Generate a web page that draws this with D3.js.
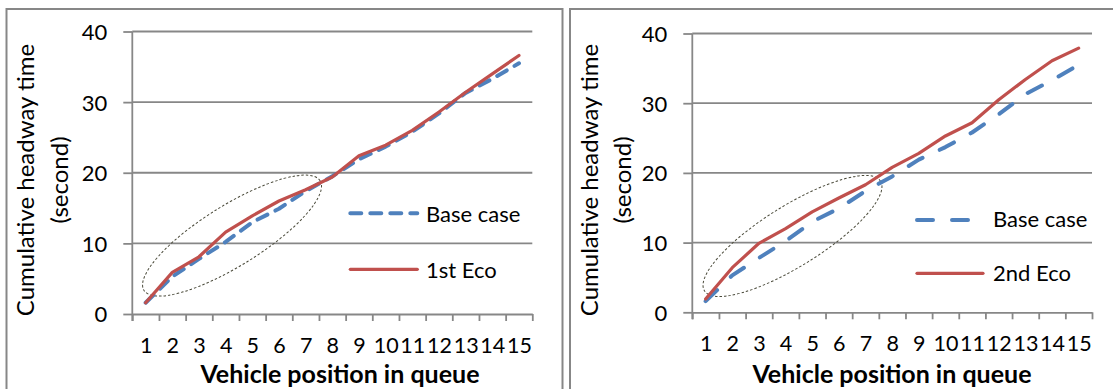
<!DOCTYPE html>
<html>
<head>
<meta charset="utf-8">
<script src="https://cdn.jsdelivr.net/npm/d3@7"></script>
<style>
  html, body { margin: 0; padding: 0; background: #fff; }
  svg { display: block; }
</style>
</head>
<body>
<div id="chart"></div>
<script>
// DATA ------------------------
const positions = [1, 2, 3, 4, 5, 6, 7, 8, 9, 10, 11, 12, 13, 14, 15]
const baseCase = [1.6, 5.3, 7.8, 10.2, 13.0, 14.9, 17.4, 19.5, 21.9, 23.7, 25.8, 28.4, 31.3, 33.3, 35.5]
const firstEco = [1.6, 5.9, 8.1, 11.6, 13.9, 16.0, 17.6, 19.4, 22.4, 23.9, 26.0, 28.6, 31.4, 34.0, 36.6]
const secondEco = [1.9, 6.4, 9.9, 12.0, 14.4, 16.4, 18.3, 20.8, 22.8, 25.3, 27.2, 30.5, 33.4, 36.1, 37.9]
const yTicks = [0, 10, 20, 30, 40]
const yTitleLines = ["Cumulative headway time", "(second)"]
const xTitle = "Vehicle position in queue"
const baseName = "Base case"
const ecoNames = ["1st Eco", "2nd Eco"]
// dotted ellipse around the start of the queue: [position, seconds]
const highlightCentres = [[4.24, 11.1], [4.26, 10.95]]

const W = 1113
const H = 389
const FONT = "Lato, 'Open Sans', sans-serif"
const GRID = "#878787"
const BLUE = "#4f81bd"
const RED = "#c0504d"

const panels = [
  {
    frameX: 6.5, frameW: 556, x0: 132.3, x1: 532.3, y0: 314, y40: 31.5,
    titleX: 340, yTitleX: [34, 68], legX: [350.3, 417.3], legY: [213.3, 269.3],
    legTextX: 426, legTextDy: 8.2, dash: "11,9",
    eco: firstEco, ecoName: ecoNames[0], centre: highlightCentres[0],
  },
  {
    frameX: 570, frameW: 560, x0: 692.3, x1: 1092, y0: 312.3, y40: 33.5,
    titleX: 892, yTitleX: [598, 631], legX: [917, 983], legY: [220, 273.3],
    legTextX: 993, legTextDy: 7.3, dash: "16,19",
    eco: secondEco, ecoName: ecoNames[1], centre: highlightCentres[1],
  },
]

const svg = d3
  .select("#chart")
  .append("svg")
  .attr("width", W)
  .attr("height", H)
  .attr("viewBox", `0 0 ${W} ${H}`)

svg.append("rect").attr("width", W).attr("height", H).attr("fill", "#fff")

const drawPanel = p => {
  const g = svg.append("g")

  // frame
  g.append("rect")
    .attr("x", p.frameX)
    .attr("y", 9)
    .attr("width", p.frameW)
    .attr("height", 420)
    .attr("fill", "none")
    .attr("stroke", GRID)
    .attr("stroke-width", 2)

  // SCALES ----------------------
  const x = d3.scaleLinear().domain([0.5, 15.5]).range([p.x0, p.x1])
  const y = d3.scaleLinear().domain([0, 40]).range([p.y0, p.y40])

  // GRID ------------------------
  g.append("g")
    .selectAll("line")
    .data(yTicks.filter(t => t > 0))
    .join("line")
    .attr("x1", p.x0)
    .attr("x2", p.x1)
    .attr("y1", d => y(d))
    .attr("y2", d => y(d))
    .attr("stroke", GRID)
    .attr("stroke-width", 1.8)

  // AXES ------------------------
  const gY = g.append("g")
    .attr("transform", `translate(${p.x0},0)`)
    .attr("color", GRID)
    .call(d3.axisLeft(y).tickValues(yTicks).tickSize(9).tickPadding(16))
  gY.select(".domain").remove()
  gY.selectAll("line").attr("stroke-width", 1.8)
  gY.selectAll("text")
    .attr("fill", "#000")
    .attr("font-family", FONT)
    .attr("font-size", 22)
    .attr("dy", "0.36em")

  g.append("line")
    .attr("x1", p.x0)
    .attr("x2", p.x0)
    .attr("y1", y(40))
    .attr("y2", y(0) + 7)
    .attr("stroke", GRID)
    .attr("stroke-width", 1.8)

  const gX = g.append("g")
    .attr("transform", `translate(0,${p.y0})`)
    .attr("color", GRID)
    .call(
      d3.axisBottom(x)
        .tickValues(positions.map(d => d - 0.5).concat([positions.length + 0.5]))
        .tickSize(7)
        .tickSizeOuter(0)
        .tickFormat("")
    )
  gX.selectAll("path, line").attr("stroke-width", 1.8)

  const gXLabels = g.append("g")
    .attr("transform", `translate(0,${p.y0})`)
    .call(d3.axisBottom(x).tickValues(positions).tickSize(0).tickFormat(d3.format("d")))
  gXLabels.select(".domain").remove()
  gXLabels.selectAll("text")
    .attr("fill", "#000")
    .attr("font-family", FONT)
    .attr("font-size", 21.5)
    .attr("y", 39)
    .attr("dy", null)

  // TITLES ----------------------
  g.append("text")
    .attr("x", p.titleX)
    .attr("y", 383)
    .attr("text-anchor", "middle")
    .attr("font-family", FONT)
    .attr("font-weight", "bold")
    .attr("font-size", 25)
    .text(xTitle)

  yTitleLines.forEach((line, i) => {
    g.append("text")
      .attr("transform", `translate(${p.yTitleX[i]},180) rotate(-90)`)
      .attr("text-anchor", "middle")
      .attr("font-family", FONT)
      .attr("font-size", 24)
      .text(line)
  })

  // HIGHLIGHT -------------------
  g.append("ellipse")
    .attr("transform", `translate(${x(p.centre[0])},${y(p.centre[1])}) rotate(-31.9)`)
    .attr("rx", 103.7)
    .attr("ry", 30.2)
    .attr("fill", "none")
    .attr("stroke", "#4a4a3a")
    .attr("stroke-width", 1)
    .attr("stroke-dasharray", "2.5,2")

  // LINES -----------------------
  const line = d3.line()
    .x((d, i) => x(positions[i]))
    .y(d => y(d))

  g.append("path")
    .datum(baseCase)
    .attr("d", line)
    .attr("fill", "none")
    .attr("stroke", BLUE)
    .attr("stroke-width", 4)
    .attr("stroke-linecap", "round")
    .attr("stroke-linejoin", "round")
    .attr("stroke-dasharray", p.dash)

  g.append("path")
    .datum(p.eco)
    .attr("d", line)
    .attr("fill", "none")
    .attr("stroke", RED)
    .attr("stroke-width", 3.2)
    .attr("stroke-linecap", "round")
    .attr("stroke-linejoin", "round")

  // LEGEND ----------------------
  const legend = [
    { name: baseName, color: BLUE, width: 4, dash: p.dash },
    { name: p.ecoName, color: RED, width: 3.2, dash: null },
  ]
  legend.forEach((d, i) => {
    g.append("line")
      .attr("x1", p.legX[0])
      .attr("x2", p.legX[1])
      .attr("y1", p.legY[i])
      .attr("y2", p.legY[i])
      .attr("stroke", d.color)
      .attr("stroke-width", d.width)
      .attr("stroke-linecap", "round")
      .attr("stroke-dasharray", d.dash)
    g.append("text")
      .attr("x", p.legTextX)
      .attr("y", p.legY[i] + p.legTextDy)
      .attr("font-family", FONT)
      .attr("font-size", 22)
      .text(d.name)
  })
}

panels.forEach(drawPanel)
</script>
</body>
</html>
